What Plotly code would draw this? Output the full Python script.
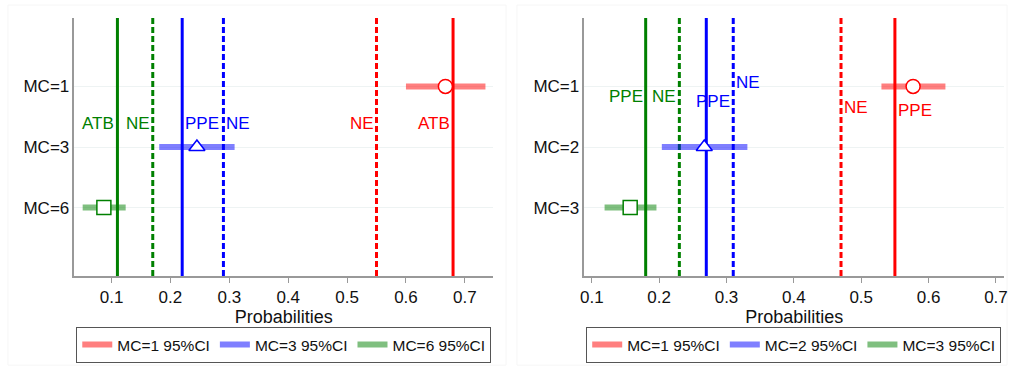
import plotly.graph_objects as go

# ---------------- data ----------------
left_cats = ["MC=1", "MC=3", "MC=6"]
left_est = [0.667, 0.245, 0.087]
left_lo = [0.600, 0.181, 0.051]
left_hi = [0.735, 0.309, 0.124]
left_solid = [0.11, 0.22, 0.68]
left_dashed = [0.17, 0.29, 0.55]
left_label_text = ["ATB", "NE", "PPE", "NE", "NE", "ATB"]
left_label_x = [0.11, 0.17, 0.22, 0.29, 0.55, 0.68]
left_label_y = [0.62, 0.62, 0.62, 0.62, 0.62, 0.62]
left_legend = ["MC=1 95%CI", "MC=3 95%CI", "MC=6 95%CI"]

right_cats = ["MC=1", "MC=2", "MC=3"]
right_est = [0.577, 0.267, 0.157]
right_lo = [0.530, 0.204, 0.119]
right_hi = [0.625, 0.331, 0.196]
right_solid = [0.18, 0.27, 0.55]
right_dashed = [0.23, 0.31, 0.47]
right_label_text = ["PPE", "NE", "PPE", "NE", "NE", "PPE"]
right_label_x = [0.18, 0.23, 0.31, 0.31, 0.47, 0.55]
right_label_y = [0.17, 0.17, 0.25, -0.06, 0.34, 0.39]
right_legend = ["MC=1 95%CI", "MC=2 95%CI", "MC=3 95%CI"]

xtick_vals = [0.1, 0.2, 0.3, 0.4, 0.5, 0.6, 0.7]

# ---------------- style ----------------
FONT = "Liberation Sans, Arial, sans-serif"
line_cols = ["#008000", "#0000ff", "#ff0000"]          # green, blue, red
ci_cols = ["rgba(255,0,0,0.5)", "rgba(0,0,255,0.5)", "rgba(0,128,0,0.5)"]
mk_cols = ["#ff0000", "#0000ff", "#008000"]
symbols = ["circle", "triangle-up", "square"]
left_anchor = ["right", "right", "left", "left", "right", "right"]
left_lcol = ["#008000", "#008000", "#0000ff", "#0000ff", "#ff0000", "#ff0000"]
right_anchor = ["right", "right", "right", "left", "left", "left"]
right_lcol = ["#008000", "#008000", "#0000ff", "#0000ff", "#ff0000", "#ff0000"]

YR = [3.13, -1.13]

fig = go.Figure()


def add_panel(xa, ya, cats, est, lo, hi, solid, dashed, ltext, lx, ly, lanchor, lcol, legnames, legend_id):
    for v, c in zip(solid, line_cols):
        fig.add_trace(go.Scatter(x=[v, v], y=[YR[0], YR[1]], mode="lines",
                                 line=dict(color=c, width=3), showlegend=False,
                                 hoverinfo="skip", xaxis=xa, yaxis=ya))
    for v, c in zip(dashed, line_cols):
        fig.add_trace(go.Scatter(x=[v, v], y=[YR[0], YR[1]], mode="lines",
                                 line=dict(color=c, width=3, dash="6px,3px"), showlegend=False,
                                 hoverinfo="skip", xaxis=xa, yaxis=ya))
    for i in range(3):
        fig.add_trace(go.Scatter(x=[lo[i], hi[i]], y=[i, i], mode="lines",
                                 line=dict(color=ci_cols[i], width=6),
                                 name=legnames[i], legend=legend_id,
                                 xaxis=xa, yaxis=ya))
    for i in range(3):
        fig.add_trace(go.Scatter(x=[est[i]], y=[i], mode="markers",
                                 marker=dict(symbol=symbols[i], size=14, color="white",
                                             line=dict(color=mk_cols[i], width=1.5)),
                                 showlegend=False, xaxis=xa, yaxis=ya))
    for t, x, y, a, c in zip(ltext, lx, ly, lanchor, lcol):
        fig.add_annotation(x=x, y=y, xref=xa, yref=ya, text=t, showarrow=False,
                           xanchor=a, yanchor="middle", xshift=(-1 if a == "right" else 1),
                           font=dict(family=FONT, size=17, color=c))


add_panel("x", "y", left_cats, left_est, left_lo, left_hi, left_solid, left_dashed,
          left_label_text, left_label_x, left_label_y, left_anchor, left_lcol, left_legend, "legend")
add_panel("x2", "y2", right_cats, right_est, right_lo, right_hi, right_solid, right_dashed,
          right_label_text, right_label_x, right_label_y, right_anchor, right_lcol, right_legend, "legend2")

common_x = dict(tickvals=xtick_vals, ticks="outside", ticklen=5, tickcolor="#999999",
                showline=True, linecolor="#999999", linewidth=1.5, showgrid=False,
                zeroline=False, tickfont=dict(family=FONT, size=17, color="#111"),
                title=dict(text="Probabilities", font=dict(family=FONT, size=18, color="#111"), standoff=0))
common_y = dict(showline=True, linecolor="#999999", linewidth=1.5, showgrid=True,
                gridcolor="#eef3f3", gridwidth=1, zeroline=False, ticks="",
                tickfont=dict(family=FONT, size=17, color="#111"), range=YR)

leg_common = dict(orientation="h", y=1 - 327 / 367, yanchor="top",
                  bordercolor="#555555", borderwidth=1, bgcolor="white",
                  font=dict(family=FONT, size=15.5, color="#111"))

fig.update_layout(
    width=1012, height=367,
    margin=dict(l=0, r=0, t=0, b=0),
    paper_bgcolor="white", plot_bgcolor="white",
    xaxis=dict(domain=[71 / 1012, 493 / 1012], range=[0.037, 0.748], anchor="y", **common_x),
    yaxis=dict(domain=[1 - 276 / 367, 1 - 18 / 367], anchor="x",
               tickvals=[0, 1, 2], ticktext=left_cats, **common_y),
    xaxis2=dict(domain=[585 / 1012, 1008 / 1012], range=[0.089, 0.712], anchor="y2", **common_x),
    yaxis2=dict(domain=[1 - 276 / 367, 1 - 18 / 367], anchor="x2",
                tickvals=[0, 1, 2], ticktext=right_cats, **common_y),
    legend=dict(x=282 / 1012, xanchor="center", **leg_common),
    legend2=dict(x=796 / 1012, xanchor="center", **leg_common),
    shapes=[
        dict(type="rect", xref="paper", yref="paper", x0=4 / 1012, x1=506 / 1012, y0=0.005, y1=1 - 5 / 367,
             line=dict(color="#f6f6f6", width=1), layer="below"),
        dict(type="rect", xref="paper", yref="paper", x0=517 / 1012, x1=1011 / 1012, y0=0.005, y1=1 - 5 / 367,
             line=dict(color="#f6f6f6", width=1), layer="below"),
    ],
)

fig.write_html("out.html")
